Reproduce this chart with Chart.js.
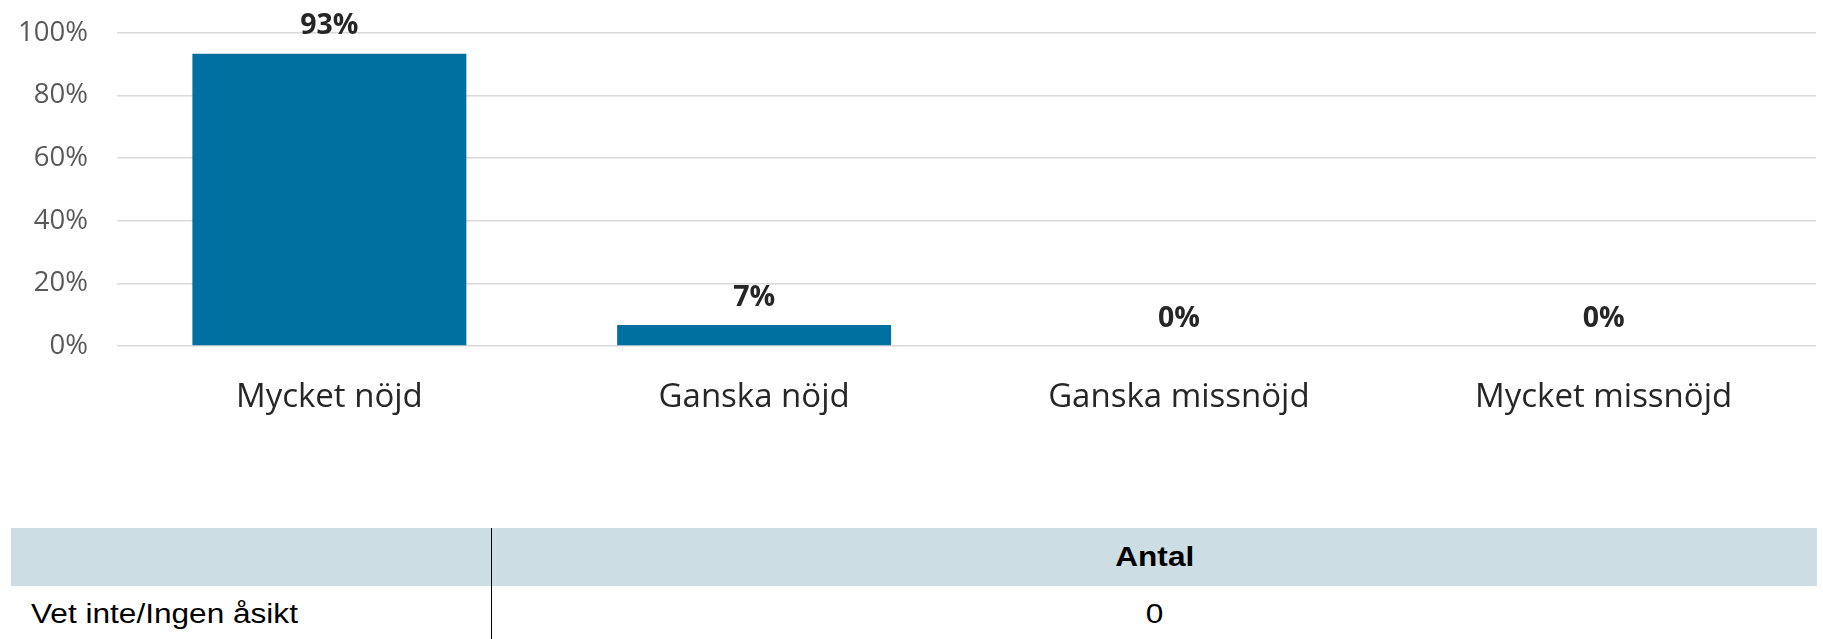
<!DOCTYPE html>
<html>
<head>
<meta charset="utf-8">
<script src="https://cdn.jsdelivr.net/npm/chart.js@4"></script>
<style>
  body { margin: 0; background: #fff; width: 1823px; height: 639px; overflow: hidden; position: relative; }
  #chart { position: absolute; left: 0; top: 0; }
  #tbl { position: absolute; left: 11px; top: 528px; width: 1806px; border-collapse: collapse; table-layout: fixed;
         font-family: "Liberation Sans", Arial, sans-serif; font-size: 27px; color: #000; }
  #tbl td, #tbl th { padding: 0; box-sizing: border-box; }
  #tbl thead th { background: #ccdee3; height: 58px; font-weight: bold; }
  #tbl tbody td { height: 56px; }
  #tbl .lbl { width: 480px; text-align: left; padding-left: 20px; }
  #tbl .val { text-align: center; border-left: 1px solid #000; }
  #tbl span { display: inline-block; transform: scaleX(1.17); }
  #tbl .lbl span { transform-origin: left center; }
</style>
</head>
<body>
<canvas id="chart" width="1823" height="430"></canvas>
<table id="tbl"><thead></thead><tbody></tbody></table>
<script>
// Svar
var categories = ['Mycket nöjd', 'Ganska nöjd', 'Ganska missnöjd', 'Mycket missnöjd'];
var shares = [93.3, 6.7, 0, 0];
var share_labels = ['93%', '7%', '0%', '0%'];

// Tabell
var table_header = 'Antal';
var table_rows = ['Vet inte/Ingen åsikt'];
var table_counts = [0];

// bygg tabellen
var thead = document.querySelector('#tbl thead');
thead.innerHTML = '<tr><th class="lbl"></th><th class="val"><span>' + table_header + '</span></th></tr>';
var tbody = document.querySelector('#tbl tbody');
for (var i = 0; i < table_rows.length; i++) {
  tbody.innerHTML += '<tr><td class="lbl"><span>' + table_rows[i] + '</span></td><td class="val"><span>' + table_counts[i] + '</span></td></tr>';
}

// etiketter ovanför staplarna
var bar_labels = {
  id: 'bar_labels',
  afterDatasetsDraw: function (chart) {
    var ctx = chart.ctx;
    var meta = chart.getDatasetMeta(0);
    ctx.save();
    ctx.font = 'bold 28.5px "Open Sans"';
    ctx.fillStyle = '#262626';
    ctx.textAlign = 'center';
    ctx.textBaseline = 'alphabetic';
    meta.data.forEach(function (bar, i) {
      ctx.fillText(share_labels[i], bar.x, bar.y - 19.5);
    });
    ctx.restore();
  }
};

var ctx = document.getElementById('chart').getContext('2d');

var chart = new Chart(ctx, {
  type: 'bar',
  data: {
    labels: categories,
    datasets: [{
      data: shares,
      backgroundColor: '#0070a0',
      borderWidth: 0,
      barPercentage: 0.645,
      categoryPercentage: 1.0
    }]
  },
  options: {
    responsive: false,
    animation: false,
    layout: { padding: { top: 32.7, right: 7, left: 0, bottom: 0 } },
    plugins: {
      legend: { display: false },
      tooltip: { enabled: false }
    },
    scales: {
      x: {
        grid: { display: false },
        border: { display: false },
        ticks: {
          color: '#262626',
          font: { family: 'Open Sans', size: 33 },
          padding: 24,
          maxRotation: 0
        },
        afterFit: function (scale) { scale.height = 430 - 346; }
      },
      y: {
        min: 0,
        max: 100,
        border: { display: false },
        grid: { color: '#d9d9d9', lineWidth: 1.5, drawTicks: false },
        ticks: {
          stepSize: 20,
          color: '#595959',
          font: { family: 'Open Sans', size: 27.5 },
          padding: 29,
          callback: function (v) { return v + '%'; }
        },
        afterFit: function (scale) {
          scale.width = 117;
          scale.paddingTop = 0;
          scale.paddingBottom = 0;
        }
      }
    }
  },
  plugins: [bar_labels]
});
</script>
</body>
</html>
